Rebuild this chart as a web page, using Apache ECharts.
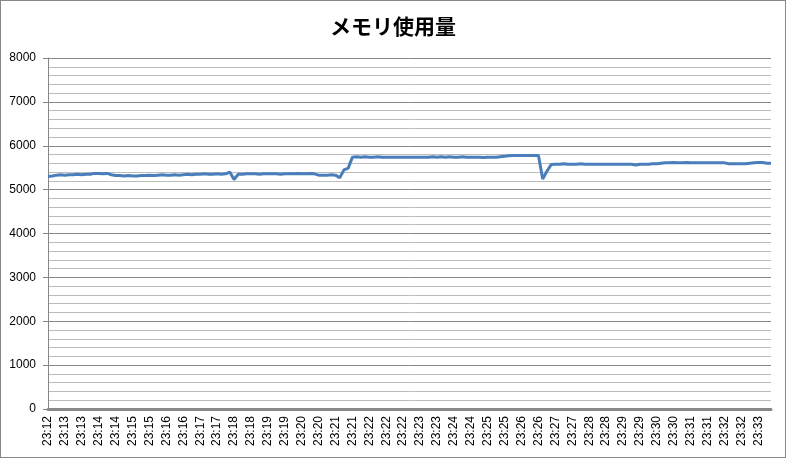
<!DOCTYPE html>
<html>
<head>
<meta charset="utf-8">
<script src="https://cdn.jsdelivr.net/npm/echarts@6/dist/echarts.min.js"></script>
<style>
  html, body { margin: 0; padding: 0; background: #fff; }
  #main { width: 784px; height: 456px; border: 1px solid #888; }
</style>
</head>
<body>
<div id="main"></div>
<script type="text/javascript">
    // 軸ラベル（4サンプルごとに1つ表示）
    var tickLabels = [
        '23:12', '23:13', '23:13', '23:14', '23:14', '23:15', '23:15', '23:16', '23:16',
        '23:17', '23:17', '23:18', '23:18', '23:19', '23:19', '23:20', '23:20', '23:21',
        '23:21', '23:22', '23:22', '23:22', '23:23', '23:23', '23:24', '23:24', '23:25',
        '23:25', '23:26', '23:26', '23:27', '23:27', '23:28', '23:28', '23:29', '23:29',
        '23:30', '23:30', '23:31', '23:31', '23:32', '23:32', '23:33'
    ];
    var samplesPerLabel = 4;

    // メモリ使用量 (MB)
    var memory = [
        5300, 5310,
        5330, 5340, 5330, 5340, 5340, 5350, 5340, 5350, 5350,
        5370, 5370, 5360, 5370,
        5340, 5320, 5320, 5310, 5320, 5310, 5310, 5320,
        5320, 5330, 5320, 5330, 5340, 5330, 5330, 5340, 5330, 5340,
        5350, 5340, 5350, 5350, 5360, 5350, 5350, 5360, 5350, 5360,
        5400, 5230,
        5350, 5350, 5360, 5360, 5360, 5350, 5360, 5360, 5360, 5360, 5350, 5360,
        5360, 5360, 5370, 5360, 5360, 5370, 5360,
        5330, 5330, 5330, 5340, 5330,
        5270, 5450, 5490,
        5740, 5750, 5740, 5750, 5740, 5740, 5750, 5740, 5740, 5740,
        5740, 5740, 5740, 5740, 5740, 5740, 5740, 5740, 5740, 5750,
        5740, 5750, 5740, 5750, 5740, 5740, 5750, 5740, 5740, 5740,
        5740, 5730, 5740, 5740, 5740, 5750, 5760,
        5770, 5780, 5780, 5780, 5780, 5780, 5780, 5780,
        5240, 5420, 5570,
        5580, 5580, 5590, 5580, 5580, 5580, 5590, 5580, 5580, 5580,
        5580, 5580, 5580, 5580, 5580, 5580, 5580, 5580, 5580,
        5560,
        5580, 5580, 5580, 5590, 5590, 5600,
        5610, 5610, 5620, 5610, 5610, 5620, 5610, 5610, 5610, 5610,
        5610, 5610, 5610, 5610, 5610,
        5590, 5590, 5590, 5590, 5590,
        5600, 5610,
        5620, 5620,
        5600, 5600
    ];

    // 各サンプルの時刻（分単位）
    var times = memory.map(function (v, i) {
        return tickLabels[Math.min(Math.floor(i / samplesPerLabel), tickLabels.length - 1)];
    });

    var myChart = echarts.init(document.getElementById('main'));

    var option = {
        animation: false,
        title: {
            text: 'メモリ使用量',
            left: 'center',
            top: 10,
            textStyle: {
                fontFamily: 'Noto Sans CJK JP',
                fontSize: 21,
                fontWeight: 'bold',
                color: '#000'
            }
        },
        grid: {
            left: 47,
            top: 57,
            right: 14,
            bottom: 48,
            containLabel: false
        },
        xAxis: {
            type: 'category',
            data: times,
            boundaryGap: false,
            axisLine: { lineStyle: { color: '#878787', width: 3 } },
            axisTick: { show: false },
            axisLabel: {
                interval: samplesPerLabel - 1,
                rotate: 90,
                margin: 7,
                fontFamily: 'Liberation Sans',
                fontSize: 12,
                color: '#000'
            },
            splitLine: { show: false }
        },
        yAxis: {
            type: 'value',
            min: 0,
            max: 8000,
            interval: 1000,
            axisLine: { show: true, lineStyle: { color: '#878787', width: 1 } },
            axisTick: { show: true, length: 5, lineStyle: { color: '#878787' } },
            axisLabel: {
                margin: 12,
                fontFamily: 'Liberation Sans',
                fontSize: 12,
                color: '#000',
                formatter: function (v) { return String(v); }
            },
            splitLine: { lineStyle: { color: '#878787', width: 1 } },
            minorTick: { show: false, splitNumber: 5 },
            minorSplitLine: { show: true, lineStyle: { color: '#bcbcbc', width: 1 } }
        },
        series: [{
            name: 'メモリ使用量',
            type: 'line',
            data: memory,
            showSymbol: false,
            smooth: false,
            lineStyle: { color: '#4A7EBB', width: 3 },
            itemStyle: { color: '#4A7EBB' }
        }]
    };

    myChart.setOption(option);
</script>
</body>
</html>
